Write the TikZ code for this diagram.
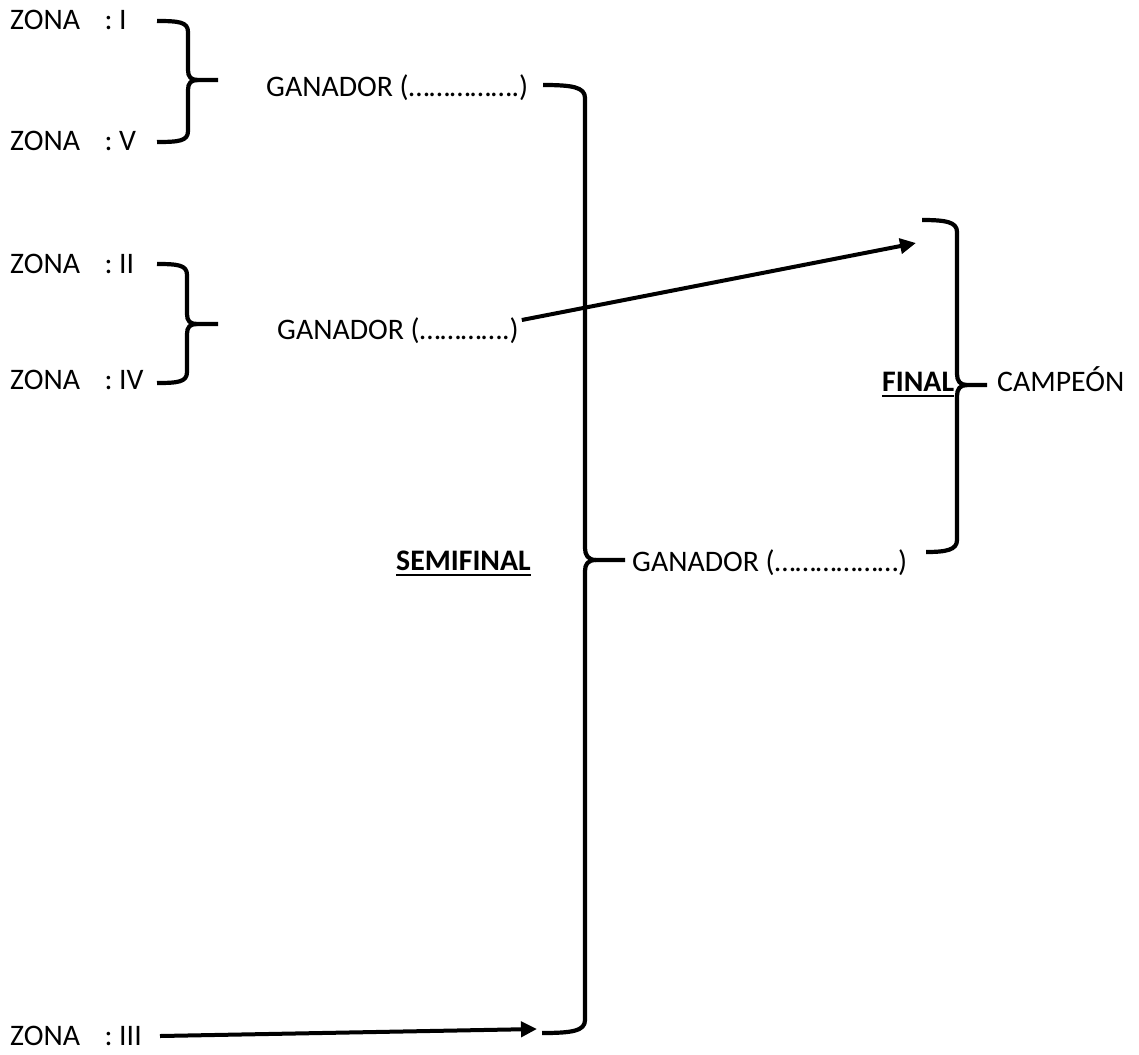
\documentclass[tikz,border=0pt]{standalone}
\usepackage{fontspec}
\setmainfont{Carlito}
\usetikzlibrary{arrows.meta}
\newcommand\zonatxt[1]{ZONA\hspace{24.5pt}: #1}
\begin{document}
\begin{tikzpicture}[x=1pt,y=-1pt,
  lbl/.style={anchor=base west, inner sep=0pt, font=\fontsize{29.8pt}{35pt}\selectfont},
  bold/.style={lbl, font=\fontsize{29.8pt}{35pt}\selectfont\bfseries},
  brace/.style={line width=4.2pt, line cap=butt, line join=round},
  conn/.style={line width=4pt, -{Triangle[length=16pt,width=15pt]}},
  uline/.style={line width=2.2pt}]
\useasboundingbox (0,0) rectangle (1139,1054);

% zone labels
\node[lbl] (zI)   at (10,30)   {\zonatxt{I}};
\node[lbl] (zV)   at (10,150)  {\zonatxt{V}};
\node[lbl] (zII)  at (10,273)  {\zonatxt{II}};
\node[lbl] (zIV)  at (10,389)  {\zonatxt{IV}};
\node[lbl] (zIII) at (10,1045) {\zonatxt{III}};

% winners
\node[lbl] (g1) at (266,96)  {GANADOR (…………….)};
\node[lbl] (g2) at (277,339) {GANADOR (………….)};
\node[lbl] (g3) at (632,571) {GANADOR (………………)};

\node[bold] (semi) at (396,570) {SEMIFINAL};
\draw[uline] ([yshift=-5pt]semi.base west) -- ([yshift=-5pt]semi.base east);
\node[bold] (fin) at (882,391) {FINAL};
\draw[uline] ([yshift=-5pt]fin.base west) -- ([yshift=-5pt]fin.base east);
\node[lbl] (camp) at (997,391) {CAMPEÓN};

% bracket zones I / V
\draw[brace] (157,21) .. controls (179,21) and (188,22) .. (188,32) -- (188,70)
  .. controls (188,77) and (191,80) .. (198,80) -- (218,80);
\draw[brace] (157,142) .. controls (179,142) and (188,141) .. (188,131) -- (188,90)
  .. controls (188,83) and (191,80) .. (198,80);

% bracket zones II / IV
\draw[brace] (157,264) .. controls (178,264) and (187,265) .. (187,275) -- (187,314)
  .. controls (187,321) and (190,324) .. (197,324) -- (218,324);
\draw[brace] (157,383) .. controls (178,383) and (187,382) .. (187,372) -- (187,334)
  .. controls (187,327) and (190,324) .. (197,324);

% semifinal bracket
\draw[brace] (543,85) .. controls (572,85) and (585,87) .. (585,98) -- (585,548)
  .. controls (585,555) and (588,560) .. (596,560) -- (625,560);
\draw[brace] (542,1033) .. controls (572,1033) and (585,1031) .. (585,1020) -- (585,571)
  .. controls (585,564) and (588,560) .. (596,560);

% final bracket
\draw[brace] (922,220) .. controls (946,220) and (957,222) .. (957,232) -- (957,374)
  .. controls (957,381) and (960,385) .. (967,385) -- (987,385);
\draw[brace] (926,552) .. controls (946,552) and (957,550) .. (957,540) -- (957,396)
  .. controls (957,389) and (960,385) .. (967,385);

% arrows
\coordinate (finTop) at (916,243);
\draw[conn] ([xshift=3pt,yshift=-3pt]g2.north east) -- (finTop);
\coordinate (zIIIs) at (160,1036);
\coordinate (semiBot) at (537,1029);
\draw[conn] (zIIIs) -- (semiBot);
\end{tikzpicture}
\end{document}
